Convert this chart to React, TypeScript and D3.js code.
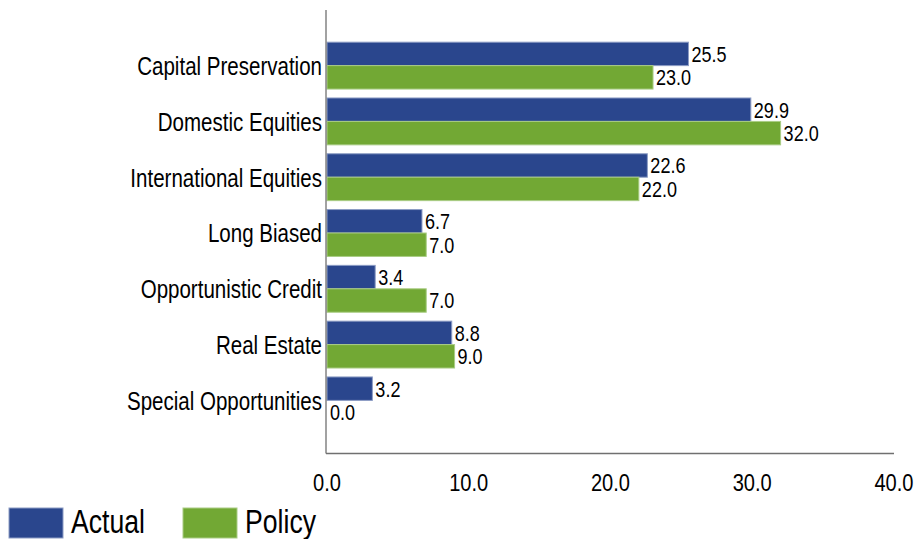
import React from "react";
import * as d3 from "d3";

const categories = [
  "Capital Preservation",
  "Domestic Equities",
  "International Equities",
  "Long Biased",
  "Opportunistic Credit",
  "Real Estate",
  "Special Opportunities",
];
const actualValues = [25.5, 29.9, 22.6, 6.7, 3.4, 8.8, 3.2];
const policyValues = [23.0, 32.0, 22.0, 7.0, 7.0, 9.0, 0.0];
const xTicks = [0, 10, 20, 30, 40];
const seriesNames = ["Actual", "Policy"];

const W = 917;
const H = 539;
const COLORS = ["#2A468D", "#72A834"];
const STROKES = ["#8C9CC4", "#A9CC84"];
const FONT = "'Liberation Sans', Arial, sans-serif";
const SX = 0.82;

export default function App() {
  const x = d3.scaleLinear().domain([0, 40]).range([327, 894]);
  const y = d3
    .scaleBand<string>()
    .domain(categories)
    .range([11.5, 454.5])
    .paddingInner(0.16)
    .paddingOuter(0.55);
  const bw = y.bandwidth() / 2;
  const series = [actualValues, policyValues];

  return (
    <svg
      width={W}
      height={H}
      style={{ position: "absolute", left: 0, top: 0, background: "#fff" }}
      fontFamily={FONT}
    >
      {/* bars */}
      {categories.map((c, i) => (
        <g key={c}>
          {series.map((vals, s) => {
            const y0 = (y(c) as number) + s * bw;
            const w = x(vals[i]) - x(0);
            return (
              <g key={s}>
                {w > 0 && (
                  <rect
                    x={x(0)}
                    y={y0}
                    width={w}
                    height={bw}
                    fill={COLORS[s]}
                    stroke={STROKES[s]}
                    strokeWidth={1}
                  />
                )}
                <g transform={`translate(${x(vals[i]) + 3},${y0 + bw / 2}) scale(${SX},1)`}>
                  <text x={0} y={0} dy="0.36em" fontSize={22} fill="#000">
                    {vals[i].toFixed(1)}
                  </text>
                </g>
              </g>
            );
          })}
          <g
            transform={`translate(322,${(y(c) as number) + y.bandwidth() / 2}) scale(0.79,1)`}
          >
            <text x={0} y={0} dy="0.36em" fontSize={26} textAnchor="end" fill="#000">
              {c}
            </text>
          </g>
        </g>
      ))}

      {/* axes */}
      <line x1={326} x2={326} y1={10} y2={453.5} stroke="#707070" strokeWidth={1.3} />
      <line x1={326} x2={894} y1={453.5} y2={453.5} stroke="#707070" strokeWidth={1.3} />
      {xTicks.map((t) => (
        <g key={t} transform={`translate(${x(t)},491) scale(${SX},1)`}>
          <text x={0} y={0} fontSize={24.5} textAnchor="middle" fill="#000">
            {t.toFixed(1)}
          </text>
        </g>
      ))}

      {/* legend */}
      {seriesNames.map((n, s) => {
        const lx = s === 0 ? 9 : 183;
        return (
          <g key={n}>
            <rect x={lx} y={508} width={54} height={30} fill={COLORS[s]} stroke={STROKES[s]} strokeWidth={1} />
            <g transform={`translate(${lx + 62},533) scale(${SX},1)`}>
              <text x={0} y={0} fontSize={32.5} fill="#000">
                {n}
              </text>
            </g>
          </g>
        );
      })}
    </svg>
  );
}
